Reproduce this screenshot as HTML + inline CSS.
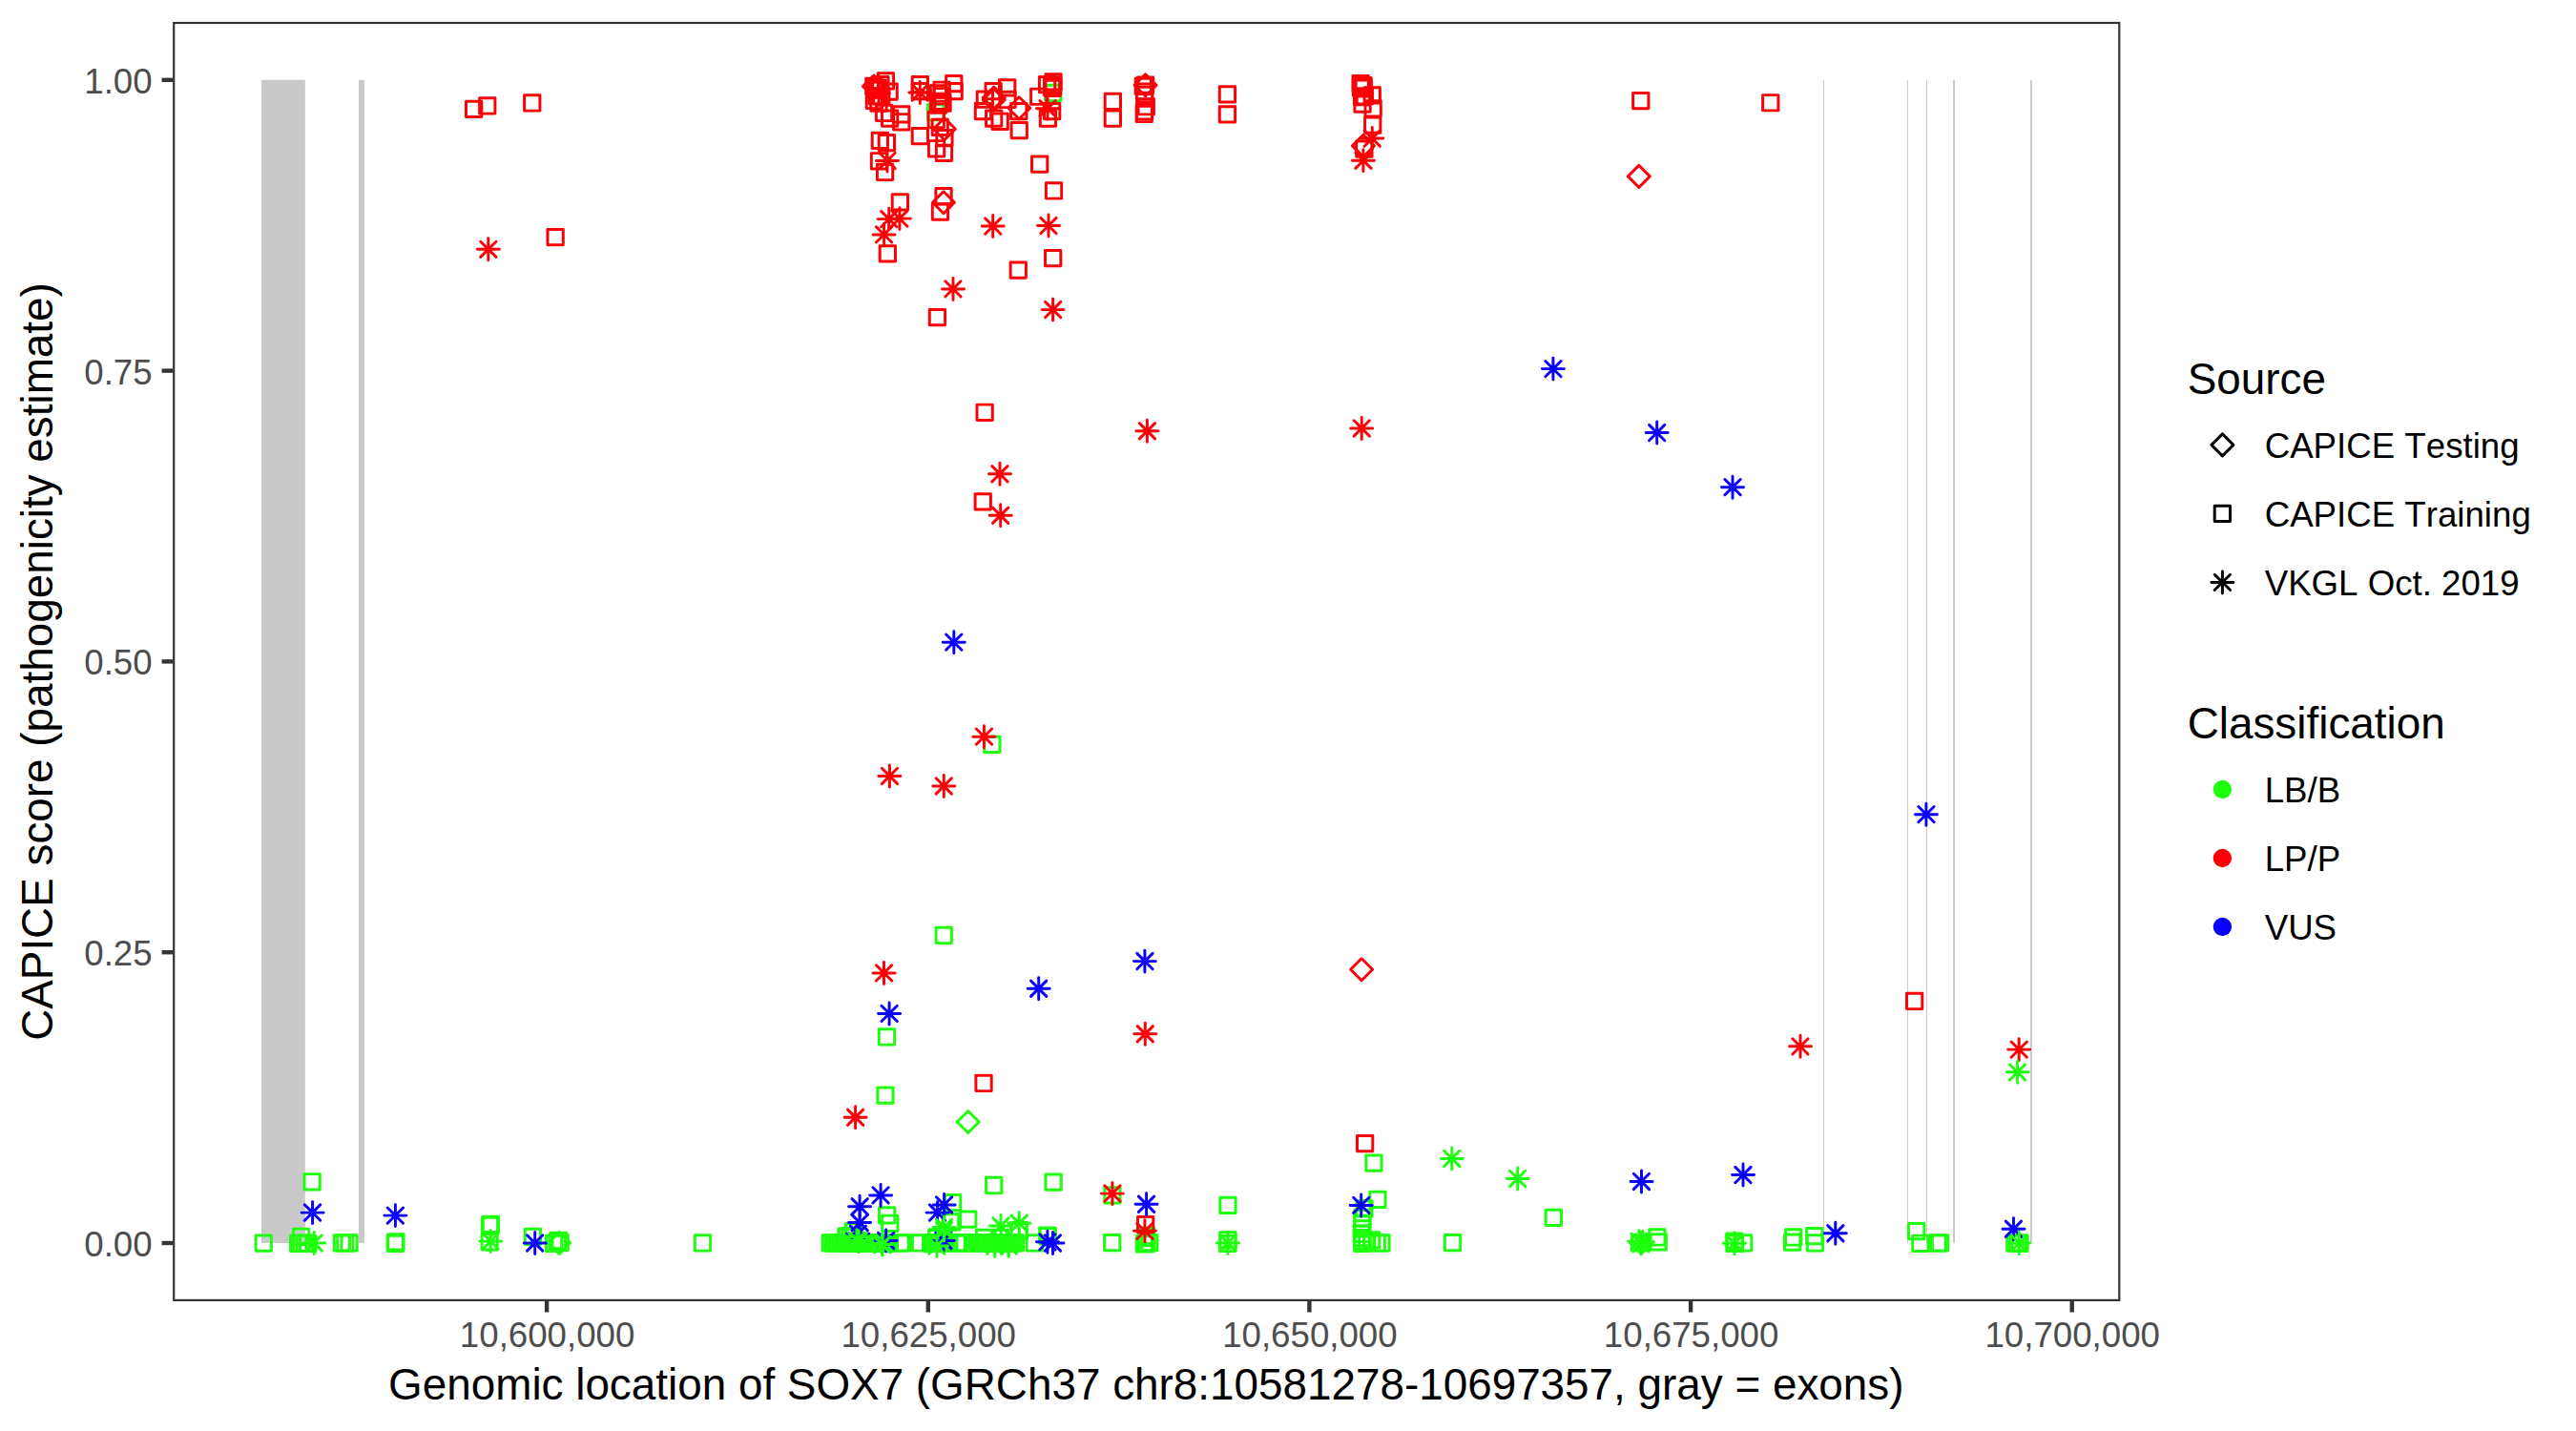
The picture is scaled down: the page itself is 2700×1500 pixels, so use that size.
<!DOCTYPE html>
<html><head><meta charset="utf-8"><title>CAPICE SOX7</title>
<style>
html,body{margin:0;padding:0;background:#fff;}
body{width:2700px;height:1500px;overflow:hidden;}
svg{display:block;}
text{font-family:"Liberation Sans",Arial,Helvetica,sans-serif;font-kerning:none;}
.ax{font-size:36.67px;fill:#4D4D4D;}
.ti{font-size:45.83px;fill:#000;}
.lg{font-size:36.67px;fill:#000;}
</style></head><body>
<svg width="2700" height="1500" viewBox="0 0 2700 1500">
<rect width="2700" height="1500" fill="#fff"/>

<g fill="#C9C9C9">
<rect x="274.0" y="83.8" width="45.8" height="1219.2"/>
<rect x="376.0" y="83.8" width="5.9" height="1219.2"/>
<rect x="1911.0" y="83.8" width="1.0" height="1219.2"/>
<rect x="1998.9" y="83.8" width="1.0" height="1219.2"/>
<rect x="2018.9" y="83.8" width="1.0" height="1219.2"/>
<rect x="2047.1" y="83.8" width="1.9" height="1219.2"/>
<rect x="2128.0" y="83.8" width="1.9" height="1219.2"/>
</g>
<g fill="none" stroke-width="2.95" stroke-linecap="round" stroke-linejoin="round">
<rect x="972.5" y="109.4" width="16.3" height="16.3" stroke="#1EFF0E"/>
<rect x="1095.5" y="89.3" width="16.3" height="16.3" stroke="#1EFF0E"/>
<rect x="1031.7" y="772.2" width="16.3" height="16.3" stroke="#1EFF0E"/>
<rect x="981.1" y="972.3" width="16.3" height="16.3" stroke="#1EFF0E"/>
<rect x="921.3" y="1078.8" width="16.3" height="16.3" stroke="#1EFF0E"/>
<rect x="919.8" y="1140.0" width="16.3" height="16.3" stroke="#1EFF0E"/>
<path d="M1003.2 1176.0L1014.7 1164.5L1026.2 1176.0L1014.7 1187.5Z" stroke="#1EFF0E"/>
<rect x="268.1" y="1294.9" width="16.3" height="16.3" stroke="#1EFF0E"/>
<rect x="319.0" y="1230.6" width="16.3" height="16.3" stroke="#1EFF0E"/>
<rect x="307.5" y="1288.1" width="16.3" height="16.3" stroke="#1EFF0E"/>
<rect x="304.5" y="1295.1" width="16.3" height="16.3" stroke="#1EFF0E"/>
<rect x="307.5" y="1295.1" width="16.3" height="16.3" stroke="#1EFF0E"/>
<rect x="311.0" y="1295.1" width="16.3" height="16.3" stroke="#1EFF0E"/>
<rect x="314.5" y="1295.1" width="16.3" height="16.3" stroke="#1EFF0E"/>
<rect x="350.2" y="1294.8" width="16.3" height="16.3" stroke="#1EFF0E"/>
<rect x="353.7" y="1294.8" width="16.3" height="16.3" stroke="#1EFF0E"/>
<rect x="357.9" y="1294.8" width="16.3" height="16.3" stroke="#1EFF0E"/>
<rect x="406.8" y="1293.7" width="16.3" height="16.3" stroke="#1EFF0E"/>
<rect x="406.2" y="1295.3" width="16.3" height="16.3" stroke="#1EFF0E"/>
<rect x="505.3" y="1276.2" width="16.3" height="16.3" stroke="#1EFF0E"/>
<rect x="506.3" y="1275.2" width="16.3" height="16.3" stroke="#1EFF0E"/>
<rect x="505.0" y="1293.7" width="16.3" height="16.3" stroke="#1EFF0E"/>
<rect x="550.3" y="1288.3" width="16.3" height="16.3" stroke="#1EFF0E"/>
<rect x="572.4" y="1295.3" width="16.3" height="16.3" stroke="#1EFF0E"/>
<rect x="575.9" y="1293.7" width="16.3" height="16.3" stroke="#1EFF0E"/>
<rect x="579.0" y="1294.4" width="16.3" height="16.3" stroke="#1EFF0E"/>
<path d="M574.6 1302.9L586.1 1291.4L597.6 1302.9L586.1 1314.4Z" stroke="#1EFF0E"/>
<rect x="577.3" y="1292.3" width="16.3" height="16.3" stroke="#1EFF0E"/>
<rect x="728.3" y="1294.8" width="16.3" height="16.3" stroke="#1EFF0E"/>
<rect x="921.5" y="1265.7" width="16.3" height="16.3" stroke="#1EFF0E"/>
<rect x="924.7" y="1274.1" width="16.3" height="16.3" stroke="#1EFF0E"/>
<rect x="887.0" y="1282.5" width="16.3" height="16.3" stroke="#1EFF0E"/>
<rect x="879.3" y="1288.1" width="16.3" height="16.3" stroke="#1EFF0E"/>
<rect x="990.5" y="1252.4" width="16.3" height="16.3" stroke="#1EFF0E"/>
<rect x="1006.6" y="1269.9" width="16.3" height="16.3" stroke="#1EFF0E"/>
<rect x="988.4" y="1272.7" width="16.3" height="16.3" stroke="#1EFF0E"/>
<rect x="1033.5" y="1234.3" width="16.3" height="16.3" stroke="#1EFF0E"/>
<rect x="1096.0" y="1231.0" width="16.3" height="16.3" stroke="#1EFF0E"/>
<rect x="1059.7" y="1282.5" width="16.3" height="16.3" stroke="#1EFF0E"/>
<rect x="1090.2" y="1287.4" width="16.3" height="16.3" stroke="#1EFF0E"/>
<rect x="1157.8" y="1244.7" width="16.3" height="16.3" stroke="#1EFF0E"/>
<rect x="1157.5" y="1294.4" width="16.3" height="16.3" stroke="#1EFF0E"/>
<rect x="1193.4" y="1295.1" width="16.3" height="16.3" stroke="#1EFF0E"/>
<rect x="1191.1" y="1295.8" width="16.3" height="16.3" stroke="#1EFF0E"/>
<rect x="1196.7" y="1294.4" width="16.3" height="16.3" stroke="#1EFF0E"/>
<rect x="1193.2" y="1289.5" width="16.3" height="16.3" stroke="#1EFF0E"/>
<rect x="1278.8" y="1255.2" width="16.3" height="16.3" stroke="#1EFF0E"/>
<rect x="1278.8" y="1291.6" width="16.3" height="16.3" stroke="#1EFF0E"/>
<rect x="1278.8" y="1295.3" width="16.3" height="16.3" stroke="#1EFF0E"/>
<rect x="973.7" y="1289.2" width="16.3" height="16.3" stroke="#1EFF0E"/>
<rect x="1023.3" y="1289.2" width="16.3" height="16.3" stroke="#1EFF0E"/>
<rect x="1040.1" y="1289.2" width="16.3" height="16.3" stroke="#1EFF0E"/>
<rect x="1431.8" y="1210.9" width="16.3" height="16.3" stroke="#1EFF0E"/>
<rect x="1435.8" y="1249.2" width="16.3" height="16.3" stroke="#1EFF0E"/>
<rect x="1421.8" y="1258.7" width="16.3" height="16.3" stroke="#1EFF0E"/>
<rect x="1419.7" y="1268.5" width="16.3" height="16.3" stroke="#1EFF0E"/>
<rect x="1419.7" y="1274.1" width="16.3" height="16.3" stroke="#1EFF0E"/>
<rect x="1419.4" y="1279.7" width="16.3" height="16.3" stroke="#1EFF0E"/>
<rect x="1419.0" y="1285.3" width="16.3" height="16.3" stroke="#1EFF0E"/>
<rect x="1419.7" y="1289.5" width="16.3" height="16.3" stroke="#1EFF0E"/>
<rect x="1419.7" y="1293.0" width="16.3" height="16.3" stroke="#1EFF0E"/>
<rect x="1419.7" y="1295.3" width="16.3" height="16.3" stroke="#1EFF0E"/>
<rect x="1424.6" y="1293.7" width="16.3" height="16.3" stroke="#1EFF0E"/>
<rect x="1429.5" y="1291.6" width="16.3" height="16.3" stroke="#1EFF0E"/>
<rect x="1435.1" y="1294.8" width="16.3" height="16.3" stroke="#1EFF0E"/>
<rect x="1439.9" y="1294.8" width="16.3" height="16.3" stroke="#1EFF0E"/>
<rect x="1514.4" y="1294.4" width="16.3" height="16.3" stroke="#1EFF0E"/>
<rect x="1620.2" y="1268.2" width="16.3" height="16.3" stroke="#1EFF0E"/>
<rect x="1710.5" y="1294.8" width="16.3" height="16.3" stroke="#1EFF0E"/>
<rect x="1728.7" y="1288.8" width="16.3" height="16.3" stroke="#1EFF0E"/>
<rect x="1730.1" y="1293.7" width="16.3" height="16.3" stroke="#1EFF0E"/>
<rect x="1809.7" y="1293.0" width="16.3" height="16.3" stroke="#1EFF0E"/>
<rect x="1810.4" y="1295.1" width="16.3" height="16.3" stroke="#1EFF0E"/>
<rect x="1819.5" y="1294.8" width="16.3" height="16.3" stroke="#1EFF0E"/>
<rect x="1871.5" y="1288.8" width="16.3" height="16.3" stroke="#1EFF0E"/>
<rect x="1870.5" y="1293.9" width="16.3" height="16.3" stroke="#1EFF0E"/>
<rect x="1893.6" y="1287.4" width="16.3" height="16.3" stroke="#1EFF0E"/>
<rect x="1894.3" y="1294.8" width="16.3" height="16.3" stroke="#1EFF0E"/>
<rect x="2000.5" y="1282.5" width="16.3" height="16.3" stroke="#1EFF0E"/>
<rect x="2004.7" y="1295.1" width="16.3" height="16.3" stroke="#1EFF0E"/>
<rect x="2022.9" y="1294.8" width="16.3" height="16.3" stroke="#1EFF0E"/>
<rect x="2025.4" y="1294.8" width="16.3" height="16.3" stroke="#1EFF0E"/>
<rect x="2103.7" y="1294.9" width="16.3" height="16.3" stroke="#1EFF0E"/>
<rect x="2106.8" y="1294.9" width="16.3" height="16.3" stroke="#1EFF0E"/>
<rect x="2108.9" y="1294.9" width="16.3" height="16.3" stroke="#1EFF0E"/>
<rect x="862.1" y="1294.8" width="16.3" height="16.3" stroke="#1EFF0E"/>
<rect x="864.8" y="1294.8" width="16.3" height="16.3" stroke="#1EFF0E"/>
<rect x="867.5" y="1294.8" width="16.3" height="16.3" stroke="#1EFF0E"/>
<rect x="870.2" y="1294.8" width="16.3" height="16.3" stroke="#1EFF0E"/>
<rect x="872.9" y="1294.8" width="16.3" height="16.3" stroke="#1EFF0E"/>
<rect x="875.6" y="1294.8" width="16.3" height="16.3" stroke="#1EFF0E"/>
<rect x="878.3" y="1294.8" width="16.3" height="16.3" stroke="#1EFF0E"/>
<rect x="881.0" y="1294.8" width="16.3" height="16.3" stroke="#1EFF0E"/>
<rect x="883.7" y="1294.8" width="16.3" height="16.3" stroke="#1EFF0E"/>
<rect x="886.4" y="1294.8" width="16.3" height="16.3" stroke="#1EFF0E"/>
<rect x="889.1" y="1294.8" width="16.3" height="16.3" stroke="#1EFF0E"/>
<rect x="891.8" y="1294.8" width="16.3" height="16.3" stroke="#1EFF0E"/>
<rect x="894.5" y="1294.8" width="16.3" height="16.3" stroke="#1EFF0E"/>
<rect x="897.2" y="1294.8" width="16.3" height="16.3" stroke="#1EFF0E"/>
<rect x="899.9" y="1294.8" width="16.3" height="16.3" stroke="#1EFF0E"/>
<rect x="902.6" y="1294.8" width="16.3" height="16.3" stroke="#1EFF0E"/>
<rect x="905.3" y="1294.8" width="16.3" height="16.3" stroke="#1EFF0E"/>
<rect x="908.0" y="1294.8" width="16.3" height="16.3" stroke="#1EFF0E"/>
<rect x="910.7" y="1294.8" width="16.3" height="16.3" stroke="#1EFF0E"/>
<rect x="913.4" y="1294.8" width="16.3" height="16.3" stroke="#1EFF0E"/>
<rect x="916.1" y="1294.8" width="16.3" height="16.3" stroke="#1EFF0E"/>
<rect x="918.8" y="1294.8" width="16.3" height="16.3" stroke="#1EFF0E"/>
<rect x="921.5" y="1294.8" width="16.3" height="16.3" stroke="#1EFF0E"/>
<rect x="924.2" y="1294.8" width="16.3" height="16.3" stroke="#1EFF0E"/>
<rect x="936.0" y="1294.8" width="16.3" height="16.3" stroke="#1EFF0E"/>
<rect x="938.4" y="1294.8" width="16.3" height="16.3" stroke="#1EFF0E"/>
<rect x="956.4" y="1294.8" width="16.3" height="16.3" stroke="#1EFF0E"/>
<rect x="967.6" y="1294.8" width="16.3" height="16.3" stroke="#1EFF0E"/>
<rect x="967.6" y="1294.8" width="16.3" height="16.3" stroke="#1EFF0E"/>
<rect x="970.3" y="1294.8" width="16.3" height="16.3" stroke="#1EFF0E"/>
<rect x="973.0" y="1294.8" width="16.3" height="16.3" stroke="#1EFF0E"/>
<rect x="975.7" y="1294.8" width="16.3" height="16.3" stroke="#1EFF0E"/>
<rect x="978.4" y="1294.8" width="16.3" height="16.3" stroke="#1EFF0E"/>
<rect x="981.1" y="1294.8" width="16.3" height="16.3" stroke="#1EFF0E"/>
<rect x="994.9" y="1294.8" width="16.3" height="16.3" stroke="#1EFF0E"/>
<rect x="997.6" y="1294.8" width="16.3" height="16.3" stroke="#1EFF0E"/>
<rect x="1000.3" y="1294.8" width="16.3" height="16.3" stroke="#1EFF0E"/>
<rect x="1003.0" y="1294.8" width="16.3" height="16.3" stroke="#1EFF0E"/>
<rect x="1012.9" y="1294.8" width="16.3" height="16.3" stroke="#1EFF0E"/>
<rect x="1015.6" y="1294.8" width="16.3" height="16.3" stroke="#1EFF0E"/>
<rect x="1018.3" y="1294.8" width="16.3" height="16.3" stroke="#1EFF0E"/>
<rect x="1021.0" y="1294.8" width="16.3" height="16.3" stroke="#1EFF0E"/>
<rect x="1023.7" y="1294.8" width="16.3" height="16.3" stroke="#1EFF0E"/>
<rect x="1026.4" y="1294.8" width="16.3" height="16.3" stroke="#1EFF0E"/>
<rect x="1029.1" y="1294.8" width="16.3" height="16.3" stroke="#1EFF0E"/>
<rect x="1031.8" y="1294.8" width="16.3" height="16.3" stroke="#1EFF0E"/>
<rect x="1034.5" y="1294.8" width="16.3" height="16.3" stroke="#1EFF0E"/>
<rect x="1037.2" y="1294.8" width="16.3" height="16.3" stroke="#1EFF0E"/>
<rect x="1039.9" y="1294.8" width="16.3" height="16.3" stroke="#1EFF0E"/>
<rect x="1042.6" y="1294.8" width="16.3" height="16.3" stroke="#1EFF0E"/>
<rect x="1045.3" y="1294.8" width="16.3" height="16.3" stroke="#1EFF0E"/>
<rect x="1048.0" y="1294.8" width="16.3" height="16.3" stroke="#1EFF0E"/>
<rect x="1050.7" y="1294.8" width="16.3" height="16.3" stroke="#1EFF0E"/>
<rect x="1053.4" y="1294.8" width="16.3" height="16.3" stroke="#1EFF0E"/>
<rect x="1056.1" y="1294.8" width="16.3" height="16.3" stroke="#1EFF0E"/>
<rect x="1076.1" y="1294.8" width="16.3" height="16.3" stroke="#1EFF0E"/>
<rect x="1089.6" y="1287.0" width="16.3" height="16.3" stroke="#1EFF0E"/>
<rect x="882.8" y="1287.5" width="16.3" height="16.3" stroke="#1EFF0E"/>
<rect x="878.9" y="1288.0" width="16.3" height="16.3" stroke="#1EFF0E"/>
<rect x="886.3" y="1282.4" width="16.3" height="16.3" stroke="#1EFF0E"/>
<rect x="973.9" y="1288.9" width="16.3" height="16.3" stroke="#1EFF0E"/>
<rect x="989.7" y="1272.6" width="16.3" height="16.3" stroke="#1EFF0E"/>
<rect x="1059.9" y="1281.5" width="16.3" height="16.3" stroke="#1EFF0E"/>
<rect x="1193.6" y="1287.1" width="16.3" height="16.3" stroke="#1EFF0E"/>
<rect x="488.5" y="106.2" width="16.3" height="16.3" stroke="#FB0007"/>
<rect x="502.6" y="102.8" width="16.3" height="16.3" stroke="#FB0007"/>
<rect x="549.6" y="99.8" width="16.3" height="16.3" stroke="#FB0007"/>
<rect x="574.0" y="240.4" width="16.3" height="16.3" stroke="#FB0007"/>
<rect x="920.3" y="76.8" width="16.3" height="16.3" stroke="#FB0007"/>
<path d="M904.4 90.5L915.9 79.0L927.4 90.5L915.9 102.0Z" stroke="#FB0007"/>
<rect x="907.7" y="82.3" width="16.3" height="16.3" stroke="#FB0007"/>
<rect x="911.9" y="84.2" width="16.3" height="16.3" stroke="#FB0007"/>
<rect x="914.7" y="80.5" width="16.3" height="16.3" stroke="#FB0007"/>
<rect x="924.0" y="87.9" width="16.3" height="16.3" stroke="#FB0007"/>
<rect x="908.2" y="97.3" width="16.3" height="16.3" stroke="#FB0007"/>
<rect x="912.8" y="100.0" width="16.3" height="16.3" stroke="#FB0007"/>
<rect x="918.4" y="110.3" width="16.3" height="16.3" stroke="#FB0007"/>
<rect x="924.5" y="115.9" width="16.3" height="16.3" stroke="#FB0007"/>
<rect x="936.6" y="111.7" width="16.3" height="16.3" stroke="#FB0007"/>
<rect x="936.6" y="119.6" width="16.3" height="16.3" stroke="#FB0007"/>
<rect x="914.2" y="139.2" width="16.3" height="16.3" stroke="#FB0007"/>
<rect x="921.2" y="141.5" width="16.3" height="16.3" stroke="#FB0007"/>
<rect x="913.3" y="160.6" width="16.3" height="16.3" stroke="#FB0007"/>
<rect x="919.4" y="172.3" width="16.3" height="16.3" stroke="#FB0007"/>
<rect x="956.2" y="80.5" width="16.3" height="16.3" stroke="#FB0007"/>
<rect x="956.2" y="87.4" width="16.3" height="16.3" stroke="#FB0007"/>
<rect x="991.6" y="79.4" width="16.3" height="16.3" stroke="#FB0007"/>
<rect x="992.0" y="87.5" width="16.3" height="16.3" stroke="#FB0007"/>
<rect x="979.0" y="86.1" width="16.3" height="16.3" stroke="#FB0007"/>
<rect x="975.3" y="89.8" width="16.3" height="16.3" stroke="#FB0007"/>
<rect x="979.9" y="100.0" width="16.3" height="16.3" stroke="#FB0007"/>
<rect x="975.3" y="101.9" width="16.3" height="16.3" stroke="#FB0007"/>
<rect x="973.1" y="117.3" width="16.3" height="16.3" stroke="#FB0007"/>
<path d="M978.4 135.2L989.9 123.7L1001.4 135.2L989.9 146.7Z" stroke="#FB0007"/>
<rect x="977.1" y="125.2" width="16.3" height="16.3" stroke="#FB0007"/>
<rect x="956.2" y="134.5" width="16.3" height="16.3" stroke="#FB0007"/>
<rect x="973.4" y="147.6" width="16.3" height="16.3" stroke="#FB0007"/>
<rect x="981.3" y="152.2" width="16.3" height="16.3" stroke="#FB0007"/>
<rect x="981.8" y="136.4" width="16.3" height="16.3" stroke="#FB0007"/>
<rect x="1047.5" y="83.7" width="16.3" height="16.3" stroke="#FB0007"/>
<rect x="1033.0" y="87.5" width="16.3" height="16.3" stroke="#FB0007"/>
<rect x="1024.2" y="95.9" width="16.3" height="16.3" stroke="#FB0007"/>
<path d="M1030.2 102.6L1041.7 91.1L1053.2 102.6L1041.7 114.1Z" stroke="#FB0007"/>
<path d="M1030.2 104.7L1041.7 93.2L1053.2 104.7L1041.7 116.2Z" stroke="#FB0007"/>
<rect x="1022.3" y="108.4" width="16.3" height="16.3" stroke="#FB0007"/>
<rect x="1047.9" y="96.3" width="16.3" height="16.3" stroke="#FB0007"/>
<rect x="1033.5" y="115.9" width="16.3" height="16.3" stroke="#FB0007"/>
<rect x="1040.0" y="119.1" width="16.3" height="16.3" stroke="#FB0007"/>
<path d="M1056.7 113.3L1068.2 101.8L1079.7 113.3L1068.2 124.8Z" stroke="#FB0007"/>
<rect x="1059.6" y="108.4" width="16.3" height="16.3" stroke="#FB0007"/>
<rect x="1060.1" y="128.5" width="16.3" height="16.3" stroke="#FB0007"/>
<rect x="1080.6" y="93.1" width="16.3" height="16.3" stroke="#FB0007"/>
<rect x="1089.4" y="80.5" width="16.3" height="16.3" stroke="#FB0007"/>
<rect x="1095.9" y="77.7" width="16.3" height="16.3" stroke="#FB0007"/>
<rect x="1094.5" y="83.3" width="16.3" height="16.3" stroke="#FB0007"/>
<rect x="1094.5" y="108.4" width="16.3" height="16.3" stroke="#FB0007"/>
<rect x="1090.3" y="115.9" width="16.3" height="16.3" stroke="#FB0007"/>
<rect x="1081.5" y="163.9" width="16.3" height="16.3" stroke="#FB0007"/>
<rect x="1096.4" y="191.8" width="16.3" height="16.3" stroke="#FB0007"/>
<rect x="910.0" y="86.1" width="16.3" height="16.3" stroke="#FB0007"/>
<rect x="915.6" y="92.6" width="16.3" height="16.3" stroke="#FB0007"/>
<rect x="911.0" y="92.6" width="16.3" height="16.3" stroke="#FB0007"/>
<rect x="979.0" y="92.6" width="16.3" height="16.3" stroke="#FB0007"/>
<rect x="977.1" y="98.2" width="16.3" height="16.3" stroke="#FB0007"/>
<rect x="935.2" y="203.7" width="16.3" height="16.3" stroke="#FB0007"/>
<rect x="922.2" y="257.7" width="16.3" height="16.3" stroke="#FB0007"/>
<rect x="980.9" y="197.4" width="16.3" height="16.3" stroke="#FB0007"/>
<path d="M977.5 212.3L989.0 200.8L1000.5 212.3L989.0 223.8Z" stroke="#FB0007"/>
<rect x="977.3" y="213.9" width="16.3" height="16.3" stroke="#FB0007"/>
<rect x="1095.5" y="262.4" width="16.3" height="16.3" stroke="#FB0007"/>
<rect x="1059.1" y="275.0" width="16.3" height="16.3" stroke="#FB0007"/>
<rect x="974.3" y="324.4" width="16.3" height="16.3" stroke="#FB0007"/>
<rect x="1158.2" y="98.2" width="16.3" height="16.3" stroke="#FB0007"/>
<rect x="1158.2" y="115.9" width="16.3" height="16.3" stroke="#FB0007"/>
<rect x="1278.3" y="90.7" width="16.3" height="16.3" stroke="#FB0007"/>
<rect x="1278.3" y="111.7" width="16.3" height="16.3" stroke="#FB0007"/>
<rect x="1430.1" y="91.7" width="16.3" height="16.3" stroke="#FB0007"/>
<rect x="1431.0" y="105.6" width="16.3" height="16.3" stroke="#FB0007"/>
<rect x="1430.6" y="122.9" width="16.3" height="16.3" stroke="#FB0007"/>
<path d="M1417.4 152.9L1428.9 141.4L1440.4 152.9L1428.9 164.4Z" stroke="#FB0007"/>
<rect x="1421.7" y="148.0" width="16.3" height="16.3" stroke="#FB0007"/>
<rect x="1711.6" y="97.5" width="16.3" height="16.3" stroke="#FB0007"/>
<rect x="1847.6" y="99.6" width="16.3" height="16.3" stroke="#FB0007"/>
<path d="M1706.3 184.9L1717.8 173.4L1729.3 184.9L1717.8 196.4Z" stroke="#FB0007"/>
<rect x="1024.0" y="424.1" width="16.3" height="16.3" stroke="#FB0007"/>
<rect x="1022.1" y="517.7" width="16.3" height="16.3" stroke="#FB0007"/>
<rect x="1022.9" y="1127.3" width="16.3" height="16.3" stroke="#FB0007"/>
<path d="M1415.6 1016.3L1427.1 1004.8L1438.6 1016.3L1427.1 1027.8Z" stroke="#FB0007"/>
<rect x="1422.5" y="1190.4" width="16.3" height="16.3" stroke="#FB0007"/>
<rect x="1998.5" y="1041.3" width="16.3" height="16.3" stroke="#FB0007"/>
<rect x="1192.5" y="1275.5" width="16.3" height="16.3" stroke="#FB0007"/>
<path d="M1189.1 89.2L1200.6 77.7L1212.1 89.2L1200.6 100.7Z" stroke="#FB0007"/>
<rect x="1192.4" y="81.0" width="16.3" height="16.3" stroke="#FB0007"/>
<rect x="1190.2" y="82.3" width="16.3" height="16.3" stroke="#FB0007"/>
<rect x="1191.4" y="87.9" width="16.3" height="16.3" stroke="#FB0007"/>
<rect x="1191.6" y="91.2" width="16.3" height="16.3" stroke="#FB0007"/>
<rect x="1193.1" y="103.6" width="16.3" height="16.3" stroke="#FB0007"/>
<rect x="1191.4" y="108.6" width="16.3" height="16.3" stroke="#FB0007"/>
<rect x="1191.1" y="111.3" width="16.3" height="16.3" stroke="#FB0007"/>
<rect x="1418.0" y="79.5" width="16.3" height="16.3" stroke="#FB0007"/>
<rect x="1420.8" y="81.4" width="16.3" height="16.3" stroke="#FB0007"/>
<rect x="1421.0" y="83.2" width="16.3" height="16.3" stroke="#FB0007"/>
<rect x="1418.3" y="83.9" width="16.3" height="16.3" stroke="#FB0007"/>
<rect x="1419.4" y="93.5" width="16.3" height="16.3" stroke="#FB0007"/>
<rect x="1422.2" y="92.7" width="16.3" height="16.3" stroke="#FB0007"/>
<rect x="1419.9" y="101.0" width="16.3" height="16.3" stroke="#FB0007"/>
<rect x="1095.0" y="84.3" width="16.3" height="16.3" stroke="#FB0007"/>
<rect x="1095.5" y="82.4" width="16.3" height="16.3" stroke="#FB0007"/>
<rect x="1094.8" y="80.6" width="16.3" height="16.3" stroke="#FB0007"/>
<path d="M988.3 673.2H1011.3M999.8 661.7V684.7M991.6 665.0L1007.9 681.3M991.6 681.3L1007.9 665.0" stroke="#0A00FF"/>
<path d="M920.6 1062.4H943.6M932.1 1050.9V1073.9M924.0 1054.2L940.3 1070.5M924.0 1070.5L940.3 1054.2" stroke="#0A00FF"/>
<path d="M1077.2 1036.2H1100.2M1088.7 1024.7V1047.7M1080.5 1028.1L1096.8 1044.4M1080.5 1044.4L1096.8 1028.1" stroke="#0A00FF"/>
<path d="M1188.4 1007.6H1211.4M1199.9 996.1V1019.1M1191.8 999.4L1208.1 1015.7M1191.8 1015.7L1208.1 999.4" stroke="#0A00FF"/>
<path d="M1616.4 386.6H1639.4M1627.9 375.1V398.1M1619.8 378.5L1636.1 394.8M1619.8 394.8L1636.1 378.5" stroke="#0A00FF"/>
<path d="M1725.2 453.5H1748.2M1736.7 442.0V465.0M1728.5 445.4L1744.8 461.7M1728.5 461.7L1744.8 445.4" stroke="#0A00FF"/>
<path d="M1804.5 510.7H1827.5M1816.0 499.2V522.2M1807.9 502.5L1824.2 518.8M1807.9 518.8L1824.2 502.5" stroke="#0A00FF"/>
<path d="M2007.4 853.7H2030.4M2018.9 842.2V865.2M2010.8 845.5L2027.1 861.8M2010.8 861.8L2027.1 845.5" stroke="#0A00FF"/>
<path d="M316.1 1271.1H339.1M327.6 1259.6V1282.6M319.4 1262.9L335.7 1279.2M319.4 1279.2L335.7 1262.9" stroke="#0A00FF"/>
<path d="M402.9 1274.1H425.9M414.4 1262.6V1285.6M406.2 1266.0L422.5 1282.3M406.2 1282.3L422.5 1266.0" stroke="#0A00FF"/>
<path d="M549.2 1302.9H572.2M560.7 1291.4V1314.4M552.5 1294.8L568.8 1311.1M552.5 1311.1L568.8 1294.8" stroke="#0A00FF"/>
<path d="M911.6 1252.9H934.6M923.1 1241.4V1264.4M914.9 1244.7L931.2 1261.0M914.9 1261.0L931.2 1244.7" stroke="#0A00FF"/>
<path d="M889.6 1264.8H912.6M901.1 1253.3V1276.3M893.0 1256.6L909.3 1272.9M893.0 1272.9L909.3 1256.6" stroke="#0A00FF"/>
<path d="M889.6 1281.5H912.6M901.1 1270.0V1293.0M893.0 1273.4L909.3 1289.7M893.0 1289.7L909.3 1273.4" stroke="#0A00FF"/>
<path d="M887.8 1293.1H910.8M899.3 1281.6V1304.6M891.2 1285.0L907.5 1301.3M891.2 1301.3L907.5 1285.0" stroke="#0A00FF"/>
<path d="M917.2 1300.4H940.2M928.7 1288.9V1311.9M920.5 1292.3L936.8 1308.6M920.5 1308.6L936.8 1292.3" stroke="#0A00FF"/>
<path d="M978.1 1263.0H1001.1M989.6 1251.5V1274.5M981.4 1254.8L997.7 1271.1M981.4 1271.1L997.7 1254.8" stroke="#0A00FF"/>
<path d="M971.1 1271.1H994.1M982.6 1259.6V1282.6M974.4 1262.9L990.7 1279.2M974.4 1279.2L990.7 1262.9" stroke="#0A00FF"/>
<path d="M977.4 1300.4H1000.4M988.9 1288.9V1311.9M980.7 1292.3L997.0 1308.6M980.7 1308.6L997.0 1292.3" stroke="#0A00FF"/>
<path d="M1086.4 1301.8H1109.4M1097.9 1290.3V1313.3M1089.7 1293.7L1106.0 1310.0M1089.7 1310.0L1106.0 1293.7" stroke="#0A00FF"/>
<path d="M1092.0 1302.9H1115.0M1103.5 1291.4V1314.4M1095.3 1294.8L1111.6 1311.1M1095.3 1311.1L1111.6 1294.8" stroke="#0A00FF"/>
<path d="M1190.1 1262.3H1213.1M1201.6 1250.8V1273.8M1193.4 1254.1L1209.7 1270.4M1193.4 1270.4L1209.7 1254.1" stroke="#0A00FF"/>
<path d="M1415.2 1263.4H1438.2M1426.7 1251.9V1274.9M1418.6 1255.2L1434.9 1271.5M1418.6 1271.5L1434.9 1255.2" stroke="#0A00FF"/>
<path d="M1709.0 1238.5H1732.0M1720.5 1227.0V1250.0M1712.3 1230.3L1728.6 1246.6M1712.3 1246.6L1728.6 1230.3" stroke="#0A00FF"/>
<path d="M1815.5 1231.5H1838.5M1827.0 1220.0V1243.0M1818.8 1223.4L1835.1 1239.7M1818.8 1239.7L1835.1 1223.4" stroke="#0A00FF"/>
<path d="M1912.3 1292.7H1935.3M1923.8 1281.2V1304.2M1915.7 1284.6L1932.0 1300.9M1915.7 1300.9L1932.0 1284.6" stroke="#0A00FF"/>
<path d="M2099.0 1288.2H2122.0M2110.5 1276.7V1299.7M2102.3 1280.1L2118.6 1296.4M2102.3 1296.4L2118.6 1280.1" stroke="#0A00FF"/>
<path d="M500.3 261.3H523.3M511.8 249.8V272.8M503.7 253.2L520.0 269.4M503.7 269.4L520.0 253.2" stroke="#FB0007"/>
<path d="M909.5 98.0H932.5M921.0 86.5V109.5M912.8 89.8L929.1 106.1M912.8 106.1L929.1 89.8" stroke="#FB0007"/>
<path d="M918.5 168.5H941.5M930.0 157.0V180.0M921.9 160.3L938.2 176.6M921.9 176.6L938.2 160.3" stroke="#FB0007"/>
<path d="M952.8 97.0H975.8M964.3 85.5V108.5M956.2 88.9L972.5 105.2M956.2 105.2L972.5 88.9" stroke="#FB0007"/>
<path d="M1086.5 113.8H1109.5M1098.0 102.3V125.3M1089.9 105.6L1106.2 121.9M1089.9 121.9L1106.2 105.6" stroke="#FB0007"/>
<path d="M920.2 229.6H943.2M931.7 218.1V241.1M923.6 221.4L939.9 237.7M923.6 237.7L939.9 221.4" stroke="#FB0007"/>
<path d="M931.4 229.1H954.4M942.9 217.6V240.6M934.7 220.9L951.0 237.2M934.7 237.2L951.0 220.9" stroke="#FB0007"/>
<path d="M915.1 245.9H938.1M926.6 234.4V257.4M918.4 237.7L934.7 254.0M918.4 254.0L934.7 237.7" stroke="#FB0007"/>
<path d="M1029.2 237.0H1052.2M1040.7 225.5V248.5M1032.6 228.9L1048.9 245.2M1032.6 245.2L1048.9 228.9" stroke="#FB0007"/>
<path d="M1087.5 236.5H1110.5M1099.0 225.0V248.0M1090.8 228.4L1107.1 244.7M1090.8 244.7L1107.1 228.4" stroke="#FB0007"/>
<path d="M987.5 302.9H1010.5M999.0 291.4V314.4M990.8 294.7L1007.1 311.0M990.8 311.0L1007.1 294.7" stroke="#FB0007"/>
<path d="M1092.1 324.6H1115.1M1103.6 313.1V336.1M1095.5 316.4L1111.8 332.7M1095.5 332.7L1111.8 316.4" stroke="#FB0007"/>
<path d="M1426.8 145.0H1449.8M1438.3 133.5V156.5M1430.1 136.9L1446.4 153.2M1430.1 153.2L1446.4 136.9" stroke="#FB0007"/>
<path d="M1417.4 168.3H1440.4M1428.9 156.8V179.8M1420.8 160.1L1437.1 176.4M1420.8 176.4L1437.1 160.1" stroke="#FB0007"/>
<path d="M1190.9 451.8H1213.9M1202.4 440.3V463.3M1194.3 443.6L1210.6 459.9M1194.3 459.9L1210.6 443.6" stroke="#FB0007"/>
<path d="M1415.7 449.0H1438.7M1427.2 437.5V460.5M1419.1 440.8L1435.4 457.1M1419.1 457.1L1435.4 440.8" stroke="#FB0007"/>
<path d="M1036.5 496.7H1059.5M1048.0 485.2V508.2M1039.8 488.6L1056.1 504.9M1039.8 504.9L1056.1 488.6" stroke="#FB0007"/>
<path d="M1037.2 540.3H1060.2M1048.7 528.8V551.8M1040.5 532.1L1056.8 548.4M1040.5 548.4L1056.8 532.1" stroke="#FB0007"/>
<path d="M1019.9 772.2H1042.9M1031.4 760.7V783.7M1023.3 764.0L1039.6 780.3M1023.3 780.3L1039.6 764.0" stroke="#FB0007"/>
<path d="M920.9 813.4H943.9M932.4 801.9V824.9M924.3 805.3L940.6 821.6M924.3 821.6L940.6 805.3" stroke="#FB0007"/>
<path d="M977.8 823.9H1000.8M989.3 812.4V835.4M981.1 815.8L997.4 832.1M981.1 832.1L997.4 815.8" stroke="#FB0007"/>
<path d="M915.0 1019.9H938.0M926.5 1008.4V1031.4M918.4 1011.7L934.7 1028.0M918.4 1028.0L934.7 1011.7" stroke="#FB0007"/>
<path d="M885.1 1171.3H908.1M896.6 1159.8V1182.8M888.5 1163.1L904.8 1179.4M888.5 1179.4L904.8 1163.1" stroke="#FB0007"/>
<path d="M1188.8 1083.8H1211.8M1200.3 1072.3V1095.3M1192.2 1075.6L1208.5 1091.9M1192.2 1091.9L1208.5 1075.6" stroke="#FB0007"/>
<path d="M1875.5 1096.8H1898.5M1887.0 1085.3V1108.3M1878.8 1088.7L1895.1 1105.0M1878.8 1105.0L1895.1 1088.7" stroke="#FB0007"/>
<path d="M2104.7 1100.1H2127.7M2116.2 1088.6V1111.6M2108.1 1092.0L2124.4 1108.3M2108.1 1108.3L2124.4 1092.0" stroke="#FB0007"/>
<path d="M1154.4 1251.1H1177.4M1165.9 1239.6V1262.6M1157.8 1242.9L1174.1 1259.2M1157.8 1259.2L1174.1 1242.9" stroke="#FB0007"/>
<path d="M1188.4 1290.3H1211.4M1199.9 1278.8V1301.8M1191.8 1282.2L1208.1 1298.5M1191.8 1298.5L1208.1 1282.2" stroke="#FB0007"/>
<path d="M2103.1 1123.8H2126.1M2114.6 1112.3V1135.3M2106.4 1115.7L2122.7 1132.0M2106.4 1132.0L2122.7 1115.7" stroke="#1EFF0E"/>
<path d="M317.7 1302.9H340.7M329.2 1291.4V1314.4M321.1 1294.8L337.4 1311.1M321.1 1311.1L337.4 1294.8" stroke="#1EFF0E"/>
<path d="M502.7 1301.1H525.7M514.2 1289.6V1312.6M506.0 1293.0L522.3 1309.3M506.0 1309.3L522.3 1293.0" stroke="#1EFF0E"/>
<path d="M886.4 1300.4H909.4M897.9 1288.9V1311.9M889.8 1292.3L906.1 1308.6M889.8 1308.6L906.1 1292.3" stroke="#1EFF0E"/>
<path d="M913.0 1304.6H936.0M924.5 1293.1V1316.1M916.3 1296.5L932.6 1312.8M916.3 1312.8L932.6 1296.5" stroke="#1EFF0E"/>
<path d="M978.1 1286.4H1001.1M989.6 1274.9V1297.9M981.4 1278.3L997.7 1294.6M981.4 1294.6L997.7 1278.3" stroke="#1EFF0E"/>
<path d="M1037.5 1285.0H1060.5M1049.0 1273.5V1296.5M1040.8 1276.9L1057.1 1293.2M1040.8 1293.2L1057.1 1276.9" stroke="#1EFF0E"/>
<path d="M1056.8 1282.2H1079.8M1068.3 1270.7V1293.7M1060.1 1274.1L1076.4 1290.4M1060.1 1290.4L1076.4 1274.1" stroke="#1EFF0E"/>
<path d="M1275.5 1302.9H1298.5M1287.0 1291.4V1314.4M1278.8 1294.8L1295.1 1311.1M1278.8 1311.1L1295.1 1294.8" stroke="#1EFF0E"/>
<path d="M970.4 1306.0H993.4M981.9 1294.5V1317.5M973.7 1297.9L990.0 1314.2M973.7 1314.2L990.0 1297.9" stroke="#1EFF0E"/>
<path d="M1031.2 1306.0H1054.2M1042.7 1294.5V1317.5M1034.5 1297.9L1050.8 1314.2M1034.5 1314.2L1050.8 1297.9" stroke="#1EFF0E"/>
<path d="M1045.9 1306.0H1068.9M1057.4 1294.5V1317.5M1049.2 1297.9L1065.5 1314.2M1049.2 1314.2L1065.5 1297.9" stroke="#1EFF0E"/>
<path d="M1510.3 1214.5H1533.3M1521.8 1203.0V1226.0M1513.6 1206.3L1529.9 1222.6M1513.6 1222.6L1529.9 1206.3" stroke="#1EFF0E"/>
<path d="M1579.2 1235.4H1602.2M1590.7 1223.9V1246.9M1582.5 1227.3L1598.8 1243.6M1582.5 1243.6L1598.8 1227.3" stroke="#1EFF0E"/>
<path d="M1706.5 1301.1H1729.5M1718.0 1289.6V1312.6M1709.8 1293.0L1726.1 1309.3M1709.8 1309.3L1726.1 1293.0" stroke="#1EFF0E"/>
<path d="M1708.5 1303.5H1731.5M1720.0 1292.0V1315.0M1711.9 1295.3L1728.2 1311.6M1711.9 1311.6L1728.2 1295.3" stroke="#1EFF0E"/>
<path d="M1710.4 1301.8H1733.4M1721.9 1290.3V1313.3M1713.7 1293.7L1730.0 1310.0M1713.7 1310.0L1730.0 1293.7" stroke="#1EFF0E"/>
<path d="M1806.4 1303.2H1829.4M1817.9 1291.7V1314.7M1809.7 1295.1L1826.0 1311.4M1809.7 1311.4L1826.0 1295.1" stroke="#1EFF0E"/>
<path d="M2104.8 1303.0H2127.8M2116.3 1291.5V1314.5M2108.1 1294.9L2124.4 1311.2M2108.1 1311.2L2124.4 1294.9" stroke="#1EFF0E"/>
<path d="M888.6 1301.3H911.6M900.1 1289.8V1312.8M891.9 1293.1L908.2 1309.4M891.9 1309.4L908.2 1293.1" stroke="#1EFF0E"/>
<path d="M913.7 1304.5H936.7M925.2 1293.0V1316.0M917.1 1296.4L933.4 1312.7M917.1 1312.7L933.4 1296.4" stroke="#1EFF0E"/>
<path d="M978.0 1289.6H1001.0M989.5 1278.1V1301.1M981.4 1281.5L997.7 1297.8M981.4 1297.8L997.7 1281.5" stroke="#1EFF0E"/>
<path d="M1031.4 1304.5H1054.4M1042.9 1293.0V1316.0M1034.7 1296.4L1051.0 1312.7M1034.7 1312.7L1051.0 1296.4" stroke="#1EFF0E"/>
<path d="M1045.3 1304.5H1068.3M1056.8 1293.0V1316.0M1048.7 1296.4L1065.0 1312.7M1048.7 1312.7L1065.0 1296.4" stroke="#1EFF0E"/>
</g>
<rect x="182.2" y="24.0" width="2039.1" height="1338.9" fill="none" stroke="#333" stroke-width="2.2"/>
<g stroke="#333" stroke-width="4.4">
<line x1="169.6" x2="181.1" y1="1303.0" y2="1303.0"/>
<line x1="169.6" x2="181.1" y1="998.2" y2="998.2"/>
<line x1="169.6" x2="181.1" y1="693.4" y2="693.4"/>
<line x1="169.6" x2="181.1" y1="388.6" y2="388.6"/>
<line x1="169.6" x2="181.1" y1="83.8" y2="83.8"/>
<line x1="573.1" x2="573.1" y1="1364.0" y2="1375.5"/>
<line x1="972.8" x2="972.8" y1="1364.0" y2="1375.5"/>
<line x1="1372.4" x2="1372.4" y1="1364.0" y2="1375.5"/>
<line x1="1772.1" x2="1772.1" y1="1364.0" y2="1375.5"/>
<line x1="2171.7" x2="2171.7" y1="1364.0" y2="1375.5"/>
</g>
<text class="ax" x="159.6" y="1317.0" text-anchor="end">0.00</text>
<text class="ax" x="159.6" y="1012.2" text-anchor="end">0.25</text>
<text class="ax" x="159.6" y="707.4" text-anchor="end">0.50</text>
<text class="ax" x="159.6" y="402.6" text-anchor="end">0.75</text>
<text class="ax" x="159.6" y="97.8" text-anchor="end">1.00</text>
<text class="ax" x="573.6" y="1411.8" text-anchor="middle">10,600,000</text>
<text class="ax" x="973.2" y="1411.8" text-anchor="middle">10,625,000</text>
<text class="ax" x="1372.9" y="1411.8" text-anchor="middle">10,650,000</text>
<text class="ax" x="1772.6" y="1411.8" text-anchor="middle">10,675,000</text>
<text class="ax" x="2172.2" y="1411.8" text-anchor="middle">10,700,000</text>
<text class="ti" x="1201.3" y="1467" text-anchor="middle">Genomic location of SOX7 (GRCh37 chr8:10581278-10697357, gray = exons)</text>
<text class="ti" transform="translate(54.9,693.5) rotate(-90)" text-anchor="middle">CAPICE score (pathogenicity estimate)</text>
<text class="ti" x="2292.7" y="412.5">Source</text>
<g fill="none" stroke-width="2.95" stroke-linecap="round" stroke-linejoin="round">
<path d="M2317.9 466.4L2329.4 454.9L2340.9 466.4L2329.4 477.9Z" stroke="#000"/>
<rect x="2321.2" y="530.2" width="16.3" height="16.3" stroke="#000"/>
<path d="M2317.9 610.4H2340.9M2329.4 598.9V621.9M2321.2 602.2L2337.6 618.5M2321.2 618.5L2337.6 602.2" stroke="#000"/>
</g>
<text class="lg" x="2373.7" y="480">CAPICE Testing</text>
<text class="lg" x="2373.7" y="552">CAPICE Training</text>
<text class="lg" x="2373.7" y="624">VKGL Oct. 2019</text>
<text class="ti" x="2292.7" y="773.8">Classification</text>
<circle cx="2329.4" cy="827.5" r="9.7" fill="#1EFF0E"/>
<text class="lg" x="2373.7" y="840.8">LB/B</text>
<circle cx="2329.4" cy="899.5" r="9.7" fill="#FB0007"/>
<text class="lg" x="2373.7" y="912.8">LP/P</text>
<circle cx="2329.4" cy="971.5" r="9.7" fill="#0A00FF"/>
<text class="lg" x="2373.7" y="984.8">VUS</text>
</svg></body></html>
